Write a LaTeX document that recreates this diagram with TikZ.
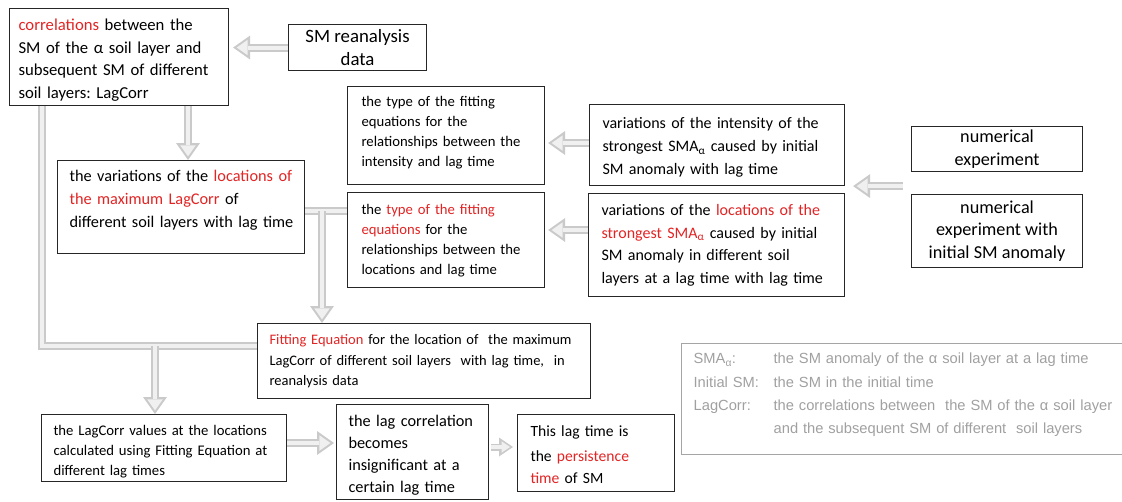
\documentclass[tikz,border=0pt]{standalone}
\usepackage{fontspec}
\setmainfont{Carlito}
\newfontfamily\legfont{Liberation Sans}
\usetikzlibrary{arrows.meta,calc}
\frenchspacing
\definecolor{redt}{RGB}{226,36,36}
\definecolor{fout}{RGB}{202,202,202}
\definecolor{fin}{RGB}{240,240,240}
\definecolor{legc}{RGB}{165,165,165}
\definecolor{legt}{RGB}{160,160,160}
\newcommand\rt[1]{\textcolor{redt}{#1}}
\tikzset{
  box/.style={draw=black!85, line width=1.1pt, inner ysep=0pt, anchor=north west, align=left},
  cbox/.style={draw=black!85, line width=1.1pt, inner sep=0pt, anchor=north west, align=center},
  bigtxt/.style={font=\fontsize{16}{22.6}\selectfont},
  smalltxt/.style={font=\fontsize{14.7}{20}\selectfont},
  flowline/.style={draw=fout, line width=8pt, postaction={draw=fin, line width=4pt}},
  flow/.style={draw=fout, line width=8pt, -{Triangle[length=17pt,width=24pt,line width=0pt]},
    postaction={draw=fin, line width=4pt, shorten >=3.6pt, -{Triangle[length=11pt,width=15.5pt,line width=0pt]}}},
  flowsm/.style={draw=fout, line width=7pt, -{Triangle[length=14pt,width=19pt,line width=0pt]},
    postaction={draw=fin, line width=3.2pt, shorten >=3pt, -{Triangle[length=8.5pt,width=11.5pt,line width=0pt]}}},
}
\begin{document}
\begin{tikzpicture}[x=1pt,y=-1pt]
\useasboundingbox (0,0) rectangle (1122,501);

% boxes
\node[box, font=\fontsize{16.7}{22.7}\selectfont, text width=201pt, inner xsep=9pt, minimum height=97pt] (A) at (9,8)
  {\begin{tabular}{@{}l@{}}\rule{0pt}{21.9pt}\rt{correlations} between the\\ SM of the α soil layer and\\ subsequent SM of different\\ soil layers: LagCorr\end{tabular}};
\node[cbox, font=\fontsize{18.8}{23}\selectfont, minimum width=138pt, minimum height=46pt] (B) at (288,24)
  {SM reanalysis\\ data};
\node[box, smalltxt, text width=169pt, inner xsep=14pt, minimum height=98pt] (C) at (347,86)
  {\begin{tabular}{@{}l@{}}the type of the fitting\\ equations for the\\ relationships between the\\ intensity and lag time\\[6pt]\end{tabular}};
\node[box, smalltxt, text width=169pt, inner xsep=14pt, minimum height=95pt] (D) at (347,192)
  {\begin{tabular}{@{}l@{}}the \rt{type of the fitting}\\ \rt{equations} for the\\ relationships between the\\ locations and lag time\end{tabular}};
\node[box, bigtxt, text width=229pt, inner xsep=13pt, minimum height=81pt] (E) at (589,104)
  {\begin{tabular}{@{}l@{}}\rule{0pt}{19.8pt}variations of the intensity of the\\ strongest SMA\textsubscript{α} caused by initial\\ SM anomaly with lag time\end{tabular}};
\node[box, bigtxt, text width=230pt, inner xsep=13pt, minimum height=103pt] (F) at (588,193)
  {\begin{tabular}{@{}l@{}}variations of the \rt{locations of the}\\ \rt{strongest SMA\textsubscript{α}} caused by initial\\ SM anomaly in different soil\\ layers at a lag time with lag time\end{tabular}};
\node[cbox, font=\fontsize{18.2}{22.3}\selectfont, minimum width=171pt, minimum height=45pt] (G) at (911,126)
  {numerical\\ experiment};
\node[cbox, font=\fontsize{18.2}{22.3}\selectfont, minimum width=171pt, minimum height=73pt] (H) at (911,194)
  {numerical\\ experiment with\\ initial SM anomaly};
\node[box, font=\fontsize{16.3}{22.6}\selectfont, text width=223pt, inner xsep=12pt, minimum height=93pt] (I) at (57,160)
  {\begin{tabular}{@{}l@{}}the variations of the \rt{locations of}\\ \rt{the maximum LagCorr} of\\ different soil layers with lag time\\[14pt]\end{tabular}};
\node[box, font=\fontsize{14.5}{20.7}\selectfont, text width=309pt, inner xsep=12pt, minimum height=75pt] (J) at (257,323)
  {\begin{tabular}{@{}l@{}}\rt{Fitting Equation} for the location of\ \ the maximum\\ LagCorr of different soil layers\ \ with lag time,\ \ in\\ reanalysis data\end{tabular}};
\node[box, font=\fontsize{14.7}{20}\selectfont, text width=221pt, inner xsep=12pt, minimum height=66pt] (K) at (41,414)
  {\begin{tabular}{@{}l@{}}\rule{0pt}{21pt}the LagCorr values at the locations\\ calculated using Fitting Equation at\\ different lag times\end{tabular}};
\node[box, font=\fontsize{16.3}{22}\selectfont, text width=128pt, inner xsep=12pt, minimum height=94pt] (L) at (336,404)
  {\begin{tabular}{@{}l@{}}\rule{0pt}{22.4pt}the lag correlation\\ becomes\\ insignificant at a\\ certain lag time\end{tabular}};
\node[box, font=\fontsize{15.6}{22}\selectfont, text width=131pt, inner xsep=13pt, minimum height=77pt] (M) at (517,414)
  {\begin{tabular}{@{}l@{}}\rule{0pt}{20.4pt}This lag time is\\[3pt] the \rt{persistence}\\ \rt{time} of SM\end{tabular}};
\node[box, draw=legc, line width=1.3pt, text=legt, font=\legfont\fontsize{14.7}{23.3}\selectfont, text width=421pt, inner xsep=12pt, minimum height=111pt] (leg) at (681,343)
  {\begin{tabular}{@{}l@{}l@{}}\makebox[80pt][l]{SMA\textsubscript{α}:} & the SM anomaly of the α soil layer at a lag time\\
   \makebox[79pt][l]{Initial SM:} & the SM in the initial time\\
   \makebox[79pt][l]{LagCorr:} & the correlations between\ \ the SM of the α soil layer\\
   & and the subsequent SM of different\ \ soil layers\\[10pt]\end{tabular}};

% connector points
\coordinate (jl) at ($(J.north west)+(0,23)$);
\coordinate (kb) at ($(K.north west)+(114,0)$);
\coordinate (id) at ($(D.north west)+(0,19)$);
\coordinate (tj) at ($(id)+(-25,0)$);
\coordinate (ec) at ($(E.north west)+(0,39)$);
\coordinate (fd) at ($(F.north west)+(0,37)$);
\coordinate (gh) at ($(G.south west)+(-8,14)$);
\coordinate (kl) at ($(K.north east)+(0,29)$);
\coordinate (lm) at ($(L.north east)+(2,43)$);
\coordinate (ai) at ($(A.south west)+(179,0)$);
\coordinate (al) at ($(A.south west)+(33,0)$);

% plain lines
\draw[flowline] (al) |- (jl);
\draw[flowline] (I.east |- id) -- (id);

% arrows
\draw[flow] (B.west) -- ($(B.west -| A.east)+(4,0)$);
\draw[flow] (ai) -- (ai |- I.north);
\draw[flow] (kb |- jl) -- (kb);
\draw[flow] (tj) -- (tj |- J.north);
\draw[flow] (ec) -- ($(ec -| C.east)+(3,0)$);
\draw[flow] (fd) -- ($(fd -| D.east)+(3,0)$);
\draw[flow] (gh) -- ($(gh -| E.east)+(8,0)$);
\draw[flow] (kl) -- ($(kl -| L.west)+(-2,0)$);
\draw[flowsm] (lm) -- ($(lm -| M.west)+(-4,0)$);
\end{tikzpicture}
\end{document}
